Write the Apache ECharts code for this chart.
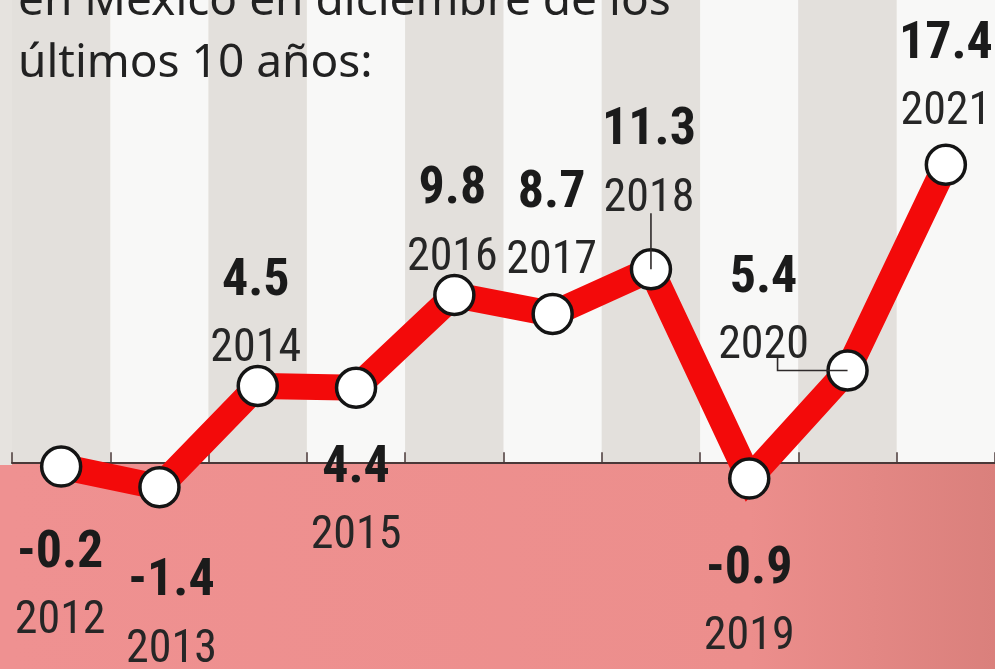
<!DOCTYPE html>
<html>
<head>
<meta charset="utf-8">
<style>
  html, body { margin: 0; padding: 0; }
  body {
    width: 995px; height: 669px; overflow: hidden;
    background: linear-gradient(to bottom, #e6e3df 0, #e6e3df 465px, #ef9191 465px, #ef9191 100%);
  }
  #chart { width: 995px; height: 669px; }
</style>
<script src="https://cdn.jsdelivr.net/npm/echarts@6/dist/echarts.min.js"></script>
</head>
<body>
<div id="chart"></div>
<script>
// Inflación en México, diciembre de cada año (%)
const years = ['2012', '2013', '2014', '2015', '2016', '2017', '2018', '2019', '2020', '2021'];
const inflation = [-0.2, -1.4, 4.5, 4.4, 9.8, 8.7, 11.3, -0.9, 5.4, 17.4];

// Label block offsets (value + year) relative to each point, in px
const labelOffsets = [[-1, 121], [12, 129], [-2, -70], [0, 115], [-2, -71], [-1, -86], [-2, -104], [0, 125], [-84, -58], [0, -86]];
// Guide lines from a point up to its label, as pixel steps from the point
const guideSteps = {
  '2018': [[0, 0], [0, -56]],
  '2020': [[0, 0], [-70, 0], [-70, -13]]
};
const guidedYears = Object.keys(guideSteps);

const narrow = "'Roboto Condensed', 'Noto Sans ExtraCondensed', 'DejaVu Sans Condensed', sans-serif";

const chart = echarts.init(document.getElementById('chart'), null, { renderer: 'canvas' });

const seriesData = inflation.map((v, i) => ({
  value: v,
  label: {
    offset: labelOffsets[i],
    formatter: '{v|' + v.toFixed(1) + '}\n{y|' + years[i] + '}'
  }
}));

const guideData = guidedYears.map(y => [years.indexOf(y), inflation[years.indexOf(y)]]);

function renderGuide(params, api) {
  const p = api.coord([api.value(0), api.value(1)]);
  const steps = guideSteps[years[api.value(0)]];
  return {
    type: 'polyline',
    silent: true,
    shape: { points: steps.map(s => [p[0] + s[0], p[1] + s[1]]) },
    style: { stroke: '#2e2a2a', lineWidth: 1.6, fill: null }
  };
}

chart.setOption({
  backgroundColor: 'transparent',
  animation: false,
  title: {
    text: 'en México en diciembre de los\núltimos 10 años:',
    left: 13,
    top: -34,
    textStyle: {
      fontFamily: "'Noto Sans', sans-serif",
      fontSize: 46,
      fontWeight: 'normal',
      color: '#222',
      lineHeight: 62
    }
  },
  grid: { left: 12, top: 0, width: 990, height: 672, containLabel: false },
  xAxis: [
    {
      type: 'category',
      data: years,
      position: 'top',
      boundaryGap: true,
      axisLine: { show: false, onZero: false },
      axisTick: { show: false },
      axisLabel: { show: false },
      splitLine: { show: false },
      splitArea: { show: true, interval: 0, areaStyle: { color: ['#e3e0dc', '#f8f8f7'] } },
      z: 0
    },
    {
      type: 'category',
      data: years,
      position: 'bottom',
      boundaryGap: true,
      axisLine: { show: true, onZero: true, lineStyle: { color: '#4a3838', width: 2 } },
      axisTick: { show: true, inside: true, length: 11, interval: 0, lineStyle: { color: '#4a3838', width: 1.5 } },
      axisLabel: { show: false },
      splitLine: { show: false },
      splitArea: { show: false },
      z: 2
    }
  ],
  yAxis: {
    type: 'value',
    min: -12,
    max: 27,
    show: false,
    splitLine: { show: false }
  },
  series: [
    {
      type: 'line',
      xAxisIndex: 0,
      data: seriesData,
      z: 3,
      symbol: 'circle',
      symbolSize: 39,
      lineStyle: { color: '#f30a0a', width: 26, join: 'miter' },
      itemStyle: { color: '#ffffff', borderColor: '#141414', borderWidth: 3.5 },
      label: {
        show: true,
        position: 'inside',
        align: 'center',
        verticalAlign: 'middle',
        rich: {
          v: { fontFamily: narrow, fontSize: 52, fontWeight: 'bold', color: '#1b1b1b', lineHeight: 68, align: 'center' },
          y: { fontFamily: narrow, fontSize: 46, fontWeight: 'normal', color: '#262626', lineHeight: 68, align: 'center' }
        }
      },
      emphasis: { disabled: true },
      markArea: {
        silent: true,
        z: 1,
        itemStyle: {
          color: {
            type: 'linear', x: 0, y: 0, x2: 1, y2: 0,
            colorStops: [
              { offset: 0, color: '#ef9191' },
              { offset: 0.75, color: '#ec8e8c' },
              { offset: 1, color: '#da807c' }
            ]
          }
        },
        data: [[{ yAxis: -12 }, { yAxis: 0 }]]
      }
    },
    {
      type: 'custom',
      xAxisIndex: 0,
      data: guideData,
      z: 4,
      silent: true,
      renderItem: renderGuide
    }
  ]
});
</script>
</body>
</html>
